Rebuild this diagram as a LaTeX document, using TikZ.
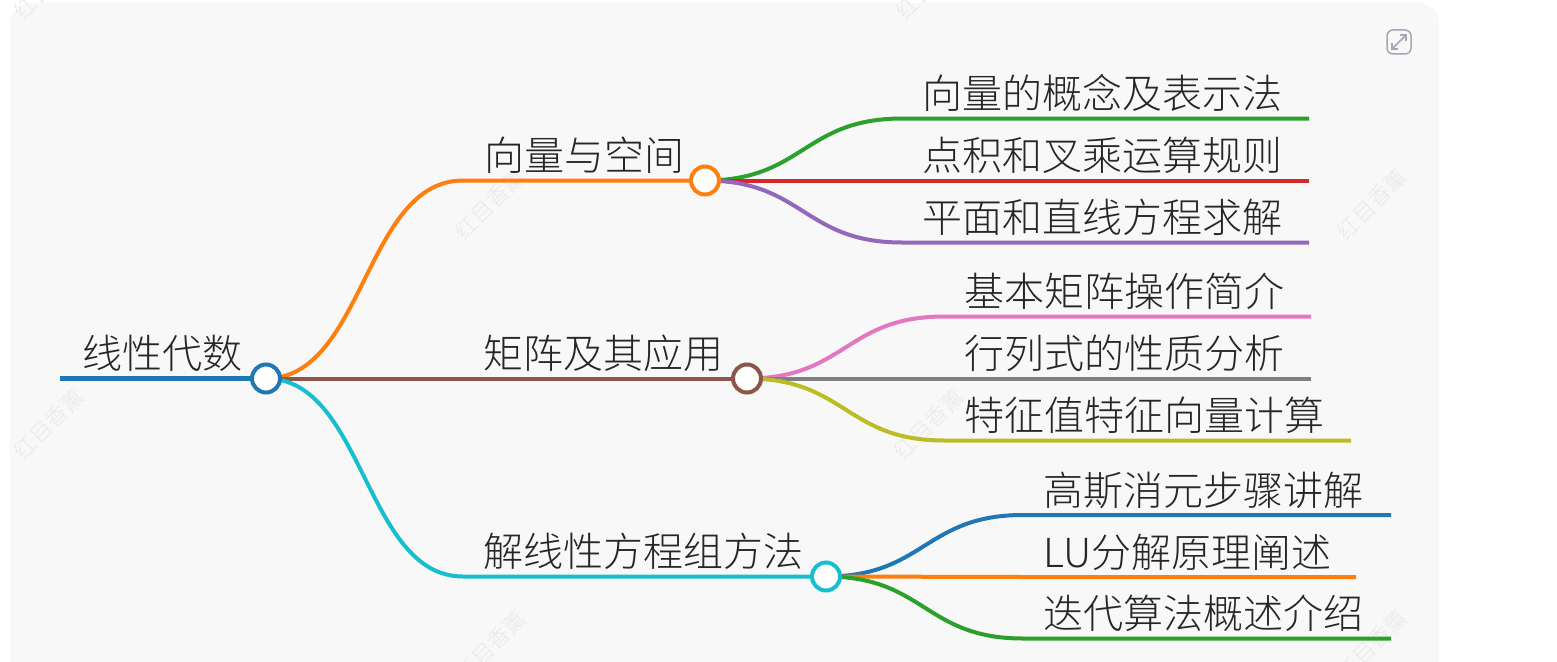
\documentclass[tikz,border=0pt]{standalone}
\usepackage{fontspec}
\setmainfont{Noto Sans CJK SC Light}
\usepackage{xcolor}
\usetikzlibrary{positioning, arrows.meta}
\pgfdeclarelayer{panel}
\pgfdeclarelayer{links}
\pgfsetlayers{panel,links,main}
\definecolor{mapBlue}{HTML}{1F77B4}
\definecolor{mapOrange}{HTML}{FF7F0E}
\definecolor{mapGreen}{HTML}{2CA02C}
\definecolor{mapRed}{HTML}{D62728}
\definecolor{mapPurple}{HTML}{9467BD}
\definecolor{mapBrown}{HTML}{8C564B}
\definecolor{mapPink}{HTML}{E377C2}
\definecolor{mapGray}{HTML}{7F7F7F}
\definecolor{mapOlive}{HTML}{BCBD22}
\definecolor{mapCyan}{HTML}{17BECF}
\definecolor{panelBg}{HTML}{F8F8F8}
\definecolor{markGray}{HTML}{E9E9E9}
\definecolor{iconGray}{HTML}{A6A6B6}
\tikzset{
	hub/.style={circle, draw=#1, fill=white, line width=4pt, minimum size=28pt, inner sep=0pt},
	topic/.style={anchor=base west, inner sep=0pt, text=black!85, font=\fontsize{40}{48}\selectfont},
	link/.style={draw=#1, line width=4pt},
	stamp/.style={rotate=45, inner sep=0pt, text=markGray, font=\fontsize{22}{26}\selectfont},
}
% curved link: hub, bend point, line end, colour
\newcommand{\mapLink}[4]{%
	\draw[link=#4] (#1.center) .. controls +(98.5,0) and +(-98.5,0) .. (#2) -- (#3);}
\begin{document}
\begin{tikzpicture}[x=1pt, y=-1pt]
	\useasboundingbox (0,0) rectangle (1557,661);
	\begin{pgfonlayer}{panel}
		\fill[panelBg, rounded corners=20pt] (10,3) rectangle (1439,700);
		% faint stamps
		\node[stamp] (stampA) at (49,424) {红目香薰};
		\node[stamp] (stampB) at (929,424) {红目香薰};
		\node[stamp] (stampC) at (490,204) {红目香薰};
		\node[stamp] (stampD) at (1372,204) {红目香薰};
		\node[stamp] (stampE) at (49,-16) {红目香薰};
		\node[stamp] (stampF) at (931,-16) {红目香薰};
		\node[stamp] (stampG) at (491,646) {红目香薰};
		\node[stamp] (stampH) at (1372,645) {红目香薰};
	\end{pgfonlayer}
	% expand icon
	\node[draw=iconGray, line width=1.5pt, rounded corners=6pt, minimum size=24pt, inner sep=0pt] (expand) at (1399,42) {};
	\draw[iconGray, line width=1.5pt, {Straight Barb[length=4pt,width=8pt]}-{Straight Barb[length=4pt,width=8pt]}] ([shift={(5,-5)}]expand.south west) -- ([shift={(-5,5)}]expand.north east);
	% hubs
	\node[hub=mapBlue] (root) at (266,378.5) {};
	\node[hub=mapOrange] (hubA) at (705,180.5) {};
	\node[hub=mapBrown] (hubB) at (747,378.5) {};
	\node[hub=mapCyan] (hubC) at (826,576.5) {};
	% points along the links
	\coordinate (rootStart) at (60,378.5);
	\coordinate (bendA) at (463,180.5);
	\coordinate (bendB) at (463,378.5);
	\coordinate (bendC) at (463,576.5);
	\coordinate (bendAa) at (902,118.5); \coordinate (endAa) at (1309,118.5);
	\coordinate (bendAb) at (902,180.5); \coordinate (endAb) at (1309,180.5);
	\coordinate (bendAc) at (902,242.5); \coordinate (endAc) at (1309,242.5);
	\coordinate (bendBa) at (944,316.5); \coordinate (endBa) at (1311,316.5);
	\coordinate (bendBb) at (944,378.5); \coordinate (endBb) at (1311,378.5);
	\coordinate (bendBc) at (944,440.5); \coordinate (endBc) at (1351,440.5);
	\coordinate (bendCa) at (1023,515); \coordinate (endCa) at (1391,515);
	\coordinate (bendCb) at (1023,577); \coordinate (endCb) at (1356,577);
	\coordinate (bendCc) at (1023,638.5); \coordinate (endCc) at (1391,638.5);
	\begin{pgfonlayer}{links}
		\draw[link=mapBlue, line width=5pt] (rootStart) -- (root.center);
		\mapLink{root}{bendA}{hubA.center}{mapOrange}
		\mapLink{root}{bendB}{hubB.center}{mapBrown}
		\mapLink{root}{bendC}{hubC.center}{mapCyan}
		\mapLink{hubA}{bendAa}{endAa}{mapGreen}
		\mapLink{hubA}{bendAb}{endAb}{mapRed}
		\mapLink{hubA}{bendAc}{endAc}{mapPurple}
		\mapLink{hubB}{bendBa}{endBa}{mapPink}
		\mapLink{hubB}{bendBb}{endBb}{mapGray}
		\mapLink{hubB}{bendBc}{endBc}{mapOlive}
		\mapLink{hubC}{bendCa}{endCa}{mapBlue}
		\mapLink{hubC}{bendCb}{endCb}{mapOrange}
		\mapLink{hubC}{bendCc}{endCc}{mapGreen}
	\end{pgfonlayer}
	% labels
	\node[topic] (rootText) at (82,368) {线性代数};
	\node[topic] (textA) at (484,170) {向量与空间};
	\node[topic] (textB) at (483,368) {矩阵及其应用};
	\node[topic] (textC) at (483,566) {解线性方程组方法};
	\node[topic] (textAa) at (922,108) {向量的概念及表示法};
	\node[topic] (textAb) at (922,170) {点积和叉乘运算规则};
	\node[topic] (textAc) at (922,232) {平面和直线方程求解};
	\node[topic] (textBa) at (964,306) {基本矩阵操作简介};
	\node[topic] (textBb) at (964,368) {行列式的性质分析};
	\node[topic] (textBc) at (964,430) {特征值特征向量计算};
	\node[topic] (textCa) at (1043,505) {高斯消元步骤讲解};
	\node[topic] (textCb) at (1043,567) {LU分解原理阐述};
	\node[topic] (textCc) at (1043,628) {迭代算法概述介绍};
\end{tikzpicture}
\end{document}
